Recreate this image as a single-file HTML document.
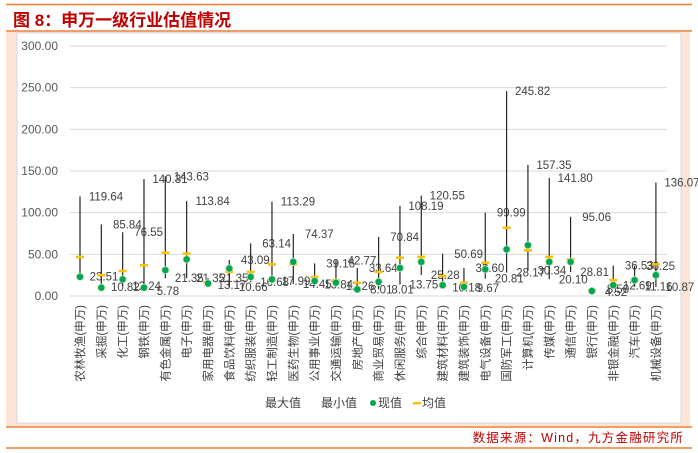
<!DOCTYPE html>
<html><head><meta charset="utf-8">
<style>
body{margin:0;width:698px;height:453px;background:#fff;position:relative;overflow:hidden;font-family:"Liberation Sans","Noto Sans CJK SC",sans-serif;}
svg{position:absolute;left:0;top:0}
</style></head>
<body>
<svg width="698" height="453">
  <line x1="6" y1="4.5" x2="692" y2="4.5" stroke="#ed7d31" stroke-width="1.5"/>
  <text x="13" y="26" font-size="17" font-weight="bold" fill="#c00000" font-family="Liberation Sans,'Noto Sans CJK SC',sans-serif">图 8：申万一级行业估值情况</text>
  <line x1="6" y1="31" x2="692" y2="31" stroke="#ed7d31" stroke-width="1.5"/>
  <rect x="6" y="32" width="684" height="394" fill="#fce4d6"/>
  <rect x="17" y="33" width="664" height="390" fill="#fff" stroke="#d9d9d9"/>
  <line x1="6" y1="427" x2="692" y2="427" stroke="#ed7d31" stroke-width="1.5"/>
  <line x1="6" y1="448" x2="692" y2="448" stroke="#ed7d31" stroke-width="1.5"/>
  <text x="684" y="442" text-anchor="end" font-size="12.5" letter-spacing="1.2" fill="#c00000">数据来源：Wind，九方金融研究所</text>
  <g id="grid"></g>
  <g id="marks"></g>
  <g id="legend" font-size="12" fill="#404040">
    <text x="265" y="407">最大值</text>
    <text x="321" y="407">最小值</text>
    <circle cx="373" cy="403" r="3" fill="#00a651"/>
    <text x="378" y="407">现值</text>
    <rect x="413" y="402" width="8" height="2.5" fill="#ffc000"/>
    <text x="422" y="407">均值</text>
  </g>
</svg>
<script>
const categories=["农林牧渔","采掘","化工","钢铁","有色金属","电子","家用电器","食品饮料","纺织服装","轻工制造","医药生物","公用事业","交通运输","房地产","商业贸易","休闲服务","综合","建筑材料","建筑装饰","电气设备","国防军工","计算机","传媒","通信","银行","非银金融","汽车","机械设备"];
const maxVals=[119.64,85.84,76.55,140.31,143.63,113.84,21.35,43.09,63.14,113.29,74.37,39.16,42.77,33.64,70.84,108.19,120.55,50.69,33.60,99.99,245.82,157.35,141.80,95.06,8.50,36.53,36.25,136.07];
const minVals=[23.51,10.82,12.24,5.78,21.35,21.35,13.17,10.66,16.68,17.99,14.45,13.84,12.26,8.01,8.01,13.75,25.28,10.18,9.67,20.81,28.17,30.34,20.10,28.81,4.52,12.69,11.16,10.87];
const curVals=[23,10,20,10,31,44,15,33,23,20,41,18,16,8,17,33.6,41,13,11,32,56,61,41,41,6,13,19,25];
const avgVals=[47,25,30,37,52,51,17,29,29,38,38,23,19,16,29,46,47,24,16,40,82,55,47,44,7,19,19,38];
const yTicks=[0,50,100,150,200,250,300];

const NS="http://www.w3.org/2000/svg";
const x0=80,dx=21.33,yBase=296,yScale=250/300;
const X=i=>x0+i*dx;
const Y=v=>yBase-v*yScale;
function mk(tag,attrs,parent){const e=document.createElementNS(NS,tag);for(const k in attrs)e.setAttribute(k,attrs[k]);parent.appendChild(e);return e;}
const grid=document.getElementById('grid'),marks=document.getElementById('marks');
yTicks.forEach(t=>{
  const l=mk('line',{x1:70,x2:667,y1:Y(t),y2:Y(t),stroke:'#d9d9d9','stroke-width':1},grid);
  
  
  const tx=mk('text',{x:58,y:Y(t)+4,'text-anchor':'end','font-size':12,fill:'#595959'},grid);
  tx.textContent=t.toFixed(2);
  
  
});
categories.forEach((c,i)=>{
  const x=X(i);
  const ln=mk('line',{x1:x,x2:x,y1:Y(maxVals[i]),y2:Y(minVals[i]),stroke:'#262626','stroke-width':1.2},marks);
  
  
  const av=mk('rect',{x:x-4,y:Y(avgVals[i])-1.2,width:8,height:2.5,fill:'#ffc000'},marks);
  
  
  const cu=mk('circle',{cx:x,cy:Y(curVals[i]),r:3.6,fill:'#00a651',stroke:'#c6e0b4','stroke-width':0.8},marks);
  
  
  const mt=mk('text',{x:x+26,y:Y(maxVals[i])+4,'text-anchor':'middle','font-size':11.5,fill:'#404040'},marks);
  mt.textContent=maxVals[i].toFixed(2);
  
  
  const nt=mk('text',{x:x+24,y:Y(minVals[i])+4,'text-anchor':'middle','font-size':11.5,fill:'#404040'},marks);
  nt.textContent=minVals[i].toFixed(2);
  
  
  const cl=mk('text',{x:0,y:0,'text-anchor':'end','font-size':11.5,fill:'#404040',transform:`translate(${x+4},305) rotate(-90)`},marks);
  cl.textContent=c+'(申万)';
  
  
});
</script>
</body></html>
